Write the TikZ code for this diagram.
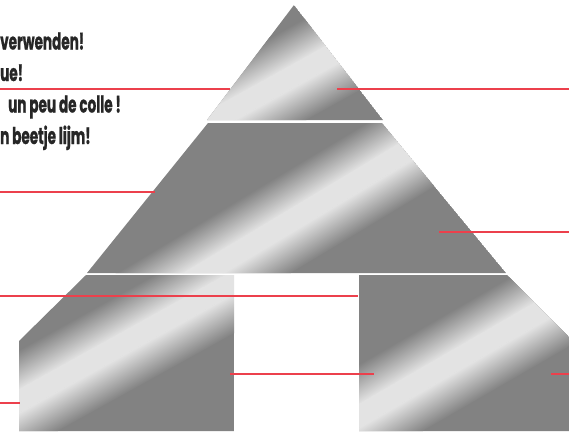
\documentclass[tikz,border=0pt]{standalone}
\usepackage{fontspec}
\newfontfamily\labfont[FakeStretch=0.59,FakeBold=0.8]{Poppins}
\definecolor{mdark}{gray}{0.51}
\definecolor{mlight}{gray}{0.89}
\definecolor{redline}{RGB}{236,64,76}
\definecolor{txt}{RGB}{38,38,38}
\newcommand\metalpiece[4]{%
  \begin{scope}
    \clip #1;
    \fill[mdark] #1;
    \begin{scope}[transform canvas={rotate around={#4:(#2,#3)}}]
      \shade[top color=mdark,bottom color=mlight] (#2-500,#3-45) rectangle (#2+500,#3-10);
      \fill[mlight] (#2-500,#3-10.5) rectangle (#2+500,#3+10.5);
      \shade[top color=mlight,bottom color=mdark] (#2-500,#3+10) rectangle (#2+500,#3+45);
    \end{scope}
  \end{scope}}
\begin{document}
\begin{tikzpicture}[x=1pt,y=-1pt,
  leader/.style={draw=redline,line width=1.3pt},
  lab/.style={anchor=base west,inner sep=0pt,text=txt,font=\labfont\bfseries\fontsize{23}{26}\selectfont}]
\useasboundingbox (0,0) rectangle (569,434);
% pieces
\metalpiece{(294,5) -- (383,120) -- (207,120) -- cycle}{282}{82}{29}
\metalpiece{(208,123) -- (382,123) -- (506,273) -- (87,273) -- cycle}{305}{212}{31}
\metalpiece{(86,275) -- (234,275) -- (234,431) -- (19,431) -- (19,341) -- cycle}{140}{334}{29}
\metalpiece{(359,275) -- (507,275) -- (569,337) -- (569,431) -- (359,431) -- cycle}{480}{346}{30}
% texts
\node[lab] (t1) at (0,49.5) {verwenden!};
\node[lab] (t2) at (0,81) {ue!};
\node[lab] (t3) at (8,112.5) {un peu de colle !};
\node[lab] (t4) at (0,144) {n beetje lijm!};
% leader end points
\coordinate (a1) at (0,89);   \coordinate (b1) at (230,89);
\coordinate (a2) at (337,89); \coordinate (b2) at (569,89);
\coordinate (a3) at (0,192);  \coordinate (b3) at (155,192);
\coordinate (a4) at (439,232);\coordinate (b4) at (569,232);
\coordinate (a5) at (0,296);  \coordinate (b5) at (358,296);
\coordinate (a6) at (230,374);\coordinate (b6) at (374,374);
\coordinate (a7) at (0,403);  \coordinate (b7) at (20,403);
\coordinate (a8) at (551,374);\coordinate (b8) at (569,374);
\foreach \i in {1,...,8} { \draw[leader] (a\i) -- (b\i); }
\end{tikzpicture}
\end{document}
